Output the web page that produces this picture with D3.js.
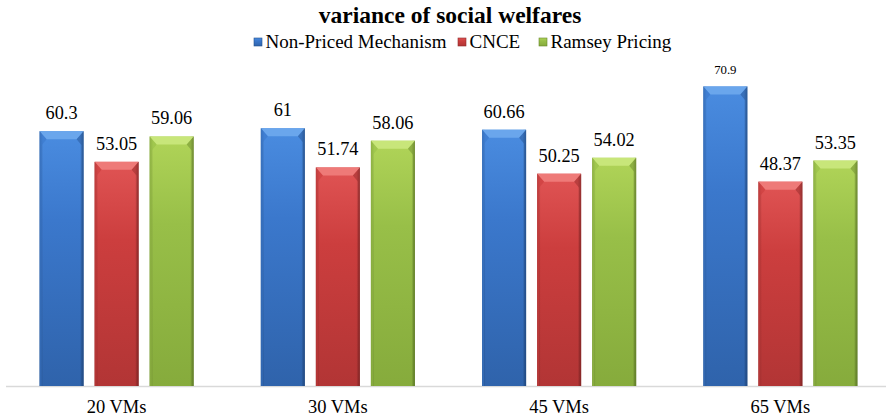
<!DOCTYPE html>
<html>
<head>
<meta charset="utf-8">
<script src="https://cdn.jsdelivr.net/npm/d3@7"></script>
<style>
  html, body { margin: 0; padding: 0; background: #ffffff; }
  svg { display: block; }
</style>
</head>
<body>
<svg id="chart" width="889" height="419"></svg>
<script>
// Chart data
const categories = ["20 VMs", "30 VMs", "45 VMs", "65 VMs"];
const seriesNames = ["Non-Priced Mechanism", "CNCE", "Ramsey Pricing"];
const nonPriced = [60.3, 61, 60.66, 70.9];
const cnce = [53.05, 51.74, 50.25, 48.37];
const ramsey = [59.06, 58.06, 54.02, 53.35];
const seriesValues = [nonPriced, cnce, ramsey];

const FONT = "Liberation Serif";

// Colour ramps per series: top, middle, bottom, bevel highlight, edge
const palettes = [
  { top: "#4a8ce0", mid: "#3b78cc", bot: "#2f63ab", hi: "#6aa6ec", edge: "#24508e" },
  { top: "#e05454", mid: "#cc3e3e", bot: "#b23535", hi: "#ee7a78", edge: "#8e2828" },
  { top: "#b0d458", mid: "#98bf48", bot: "#86ab3c", hi: "#c8e67a", edge: "#66862a" }
];

const svg = d3.select("#chart");
const width = 889, height = 419;
const margin = { left: 6, right: -2, top: 48, bottom: 33 };
const baseY = height - margin.bottom;

const x0 = d3.scaleBand()
  .domain(categories)
  .range([margin.left, width - margin.right])
  .paddingInner(0)
  .paddingOuter(0);

const x1 = d3.scaleBand()
  .domain(d3.range(seriesNames.length))
  .range([0, x0.bandwidth()])
  .paddingInner(0.2)
  .paddingOuter(0.61);

const y = d3.scaleLinear()
  .domain([0, 80])
  .range([baseY, margin.top]);

// Gradients
const defs = svg.append("defs");
palettes.forEach((p, i) => {
  const g = defs.append("linearGradient")
    .attr("id", "fill" + i).attr("x1", 0).attr("y1", 0).attr("x2", 0).attr("y2", 1);
  g.append("stop").attr("offset", "0%").attr("stop-color", p.top);
  g.append("stop").attr("offset", "35%").attr("stop-color", p.mid);
  g.append("stop").attr("offset", "100%").attr("stop-color", p.bot);
});
const side = defs.append("linearGradient")
  .attr("id", "sideShade").attr("x1", 0).attr("y1", 0).attr("x2", 1).attr("y2", 0);
side.append("stop").attr("offset", "0%").attr("stop-color", "#000").attr("stop-opacity", 0.25);
side.append("stop").attr("offset", "8%").attr("stop-color", "#000").attr("stop-opacity", 0.0);
side.append("stop").attr("offset", "92%").attr("stop-color", "#000").attr("stop-opacity", 0.0);
side.append("stop").attr("offset", "100%").attr("stop-color", "#000").attr("stop-opacity", 0.3);

// Axis line
svg.append("line")
  .attr("x1", margin.left).attr("x2", width - 3)
  .attr("y1", baseY + 0.5).attr("y2", baseY + 0.5)
  .attr("stroke", "#d9d9d9").attr("stroke-width", 1.5);

// Bars
const groups = svg.append("g").selectAll("g")
  .data(categories)
  .join("g")
  .attr("transform", d => `translate(${x0(d)},0)`);

const bevel = 8, inset = 7;
groups.each(function (cat, ci) {
  const g = d3.select(this);
  seriesValues.forEach((vals, si) => {
    const v = vals[ci];
    const bx = x1(si), bw = x1.bandwidth();
    const by = y(v), bh = baseY - y(v);
    const p = palettes[si];
    g.append("rect")
      .attr("x", bx).attr("y", by).attr("width", bw).attr("height", bh)
      .attr("fill", `url(#fill${si})`);
    g.append("rect")
      .attr("x", bx).attr("y", by).attr("width", bw).attr("height", bh)
      .attr("fill", "url(#sideShade)");
    // top bevel
    g.append("path")
      .attr("d", `M${bx},${by} L${bx + bw},${by} L${bx + bw - inset},${by + bevel} L${bx + inset},${by + bevel} Z`)
      .attr("fill", p.hi);
    // left bevel
    g.append("path")
      .attr("d", `M${bx},${by} L${bx + inset},${by + bevel} L${bx + 2},${by + bevel + 6} L${bx + 2},${baseY} L${bx},${baseY} Z`)
      .attr("fill", p.mid).attr("opacity", 0.6);
    // right bevel
    g.append("path")
      .attr("d", `M${bx + bw},${by} L${bx + bw - inset},${by + bevel} L${bx + bw - 2},${by + bevel + 6} L${bx + bw - 2},${baseY} L${bx + bw},${baseY} Z`)
      .attr("fill", p.edge).attr("opacity", 0.45);
    // value label
    const small = v >= 70;
    g.append("text")
      .attr("x", bx + bw / 2)
      .attr("y", by - 12)
      .attr("text-anchor", "middle")
      .attr("font-family", FONT)
      .attr("font-size", small ? 12.8 : 18.3)
      .text(v);
  });
});

// Category labels
svg.append("g").selectAll("text")
  .data(categories)
  .join("text")
  .attr("x", d => x0(d) + x0.bandwidth() / 2)
  .attr("y", baseY + 27)
  .attr("text-anchor", "middle")
  .attr("font-family", FONT)
  .attr("font-size", 18.5)
  .text(d => d);

// Title
svg.append("text")
  .attr("x", 450).attr("y", 23)
  .attr("text-anchor", "middle")
  .attr("font-family", FONT)
  .attr("font-size", 23.5).attr("font-weight", "bold")
  .text("variance of social welfares");

// Legend
const markerX = [254, 458, 539];
const legend = svg.append("g").selectAll("g")
  .data(seriesNames)
  .join("g")
  .attr("transform", (d, i) => `translate(${markerX[i]},48)`);
legend.append("rect")
  .attr("x", 0).attr("y", -10).attr("width", 8).attr("height", 8)
  .attr("fill", (d, i) => `url(#fill${i})`)
  .attr("stroke", (d, i) => palettes[i].edge).attr("stroke-width", 0.6);
legend.append("text")
  .attr("x", 11.5).attr("y", 0)
  .attr("font-family", FONT)
  .attr("font-size", 19)
  .text(d => d);
</script>
</body>
</html>
